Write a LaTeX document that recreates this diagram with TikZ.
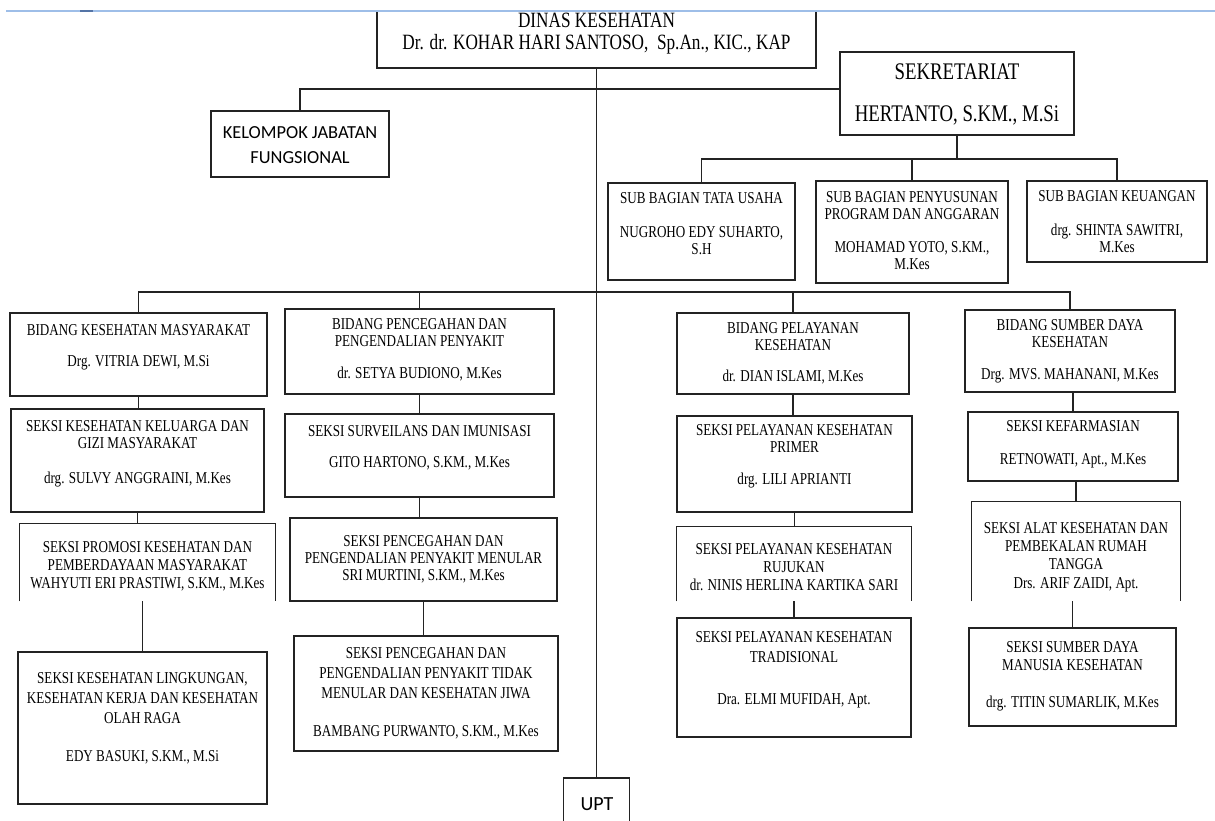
\documentclass[tikz,border=0pt]{standalone}
\usepackage{fontspec}
\setmainfont[FakeStretch=0.79]{Liberation Serif}
\newfontfamily\calibri{Carlito}
\definecolor{rulerblue}{RGB}{158,190,232}
\definecolor{rulerdark}{RGB}{84,116,166}
\definecolor{lineblack}{RGB}{35,35,35}

\begin{document}
\begin{tikzpicture}[x=0.5pt, y=-0.5pt,
        box/.style={draw=lineblack, line width=0.7pt, rectangle, inner sep=0pt},
        openbox/.style={rectangle, inner sep=0pt},
        txt/.style={align=center, inner sep=0pt, font=\fontsize{8.3}{8.5}\selectfont},
        link/.style={draw=lineblack, line width=0.7pt}
    ]
    \useasboundingbox (0,0) rectangle (1215,820);

    % Kepala dinas dan sekretariat
    \node[box, minimum width=219.5pt, minimum height=28.5pt] (dinas) at (596.5,39.5) {};
    \node[txt, font=\fontsize{10.9}{11}\selectfont] (dinast) at (596.5,34) {DINAS KESEHATAN\\Dr. dr. KOHAR HARI SANTOSO,\ \ Sp.An., KIC., KAP};
    \node[box, minimum width=117pt, minimum height=41.5pt] (sek) at (957,93.5) {};
    \node[txt, font=\fontsize{11.9}{12}\selectfont] (sekt) at (957,94) {SEKRETARIAT\\[9pt]HERTANTO, S.KM., M.Si};
    \node[box, minimum width=89pt, minimum height=33pt] (kjf) at (300,144) {};
    \node[txt, font=\calibri\fontsize{9.2}{12.5}\selectfont] (kjft) at (300,145.5) {KELOMPOK JABATAN\\FUNGSIONAL};

    % Sub bagian
    \node[box, minimum width=93.5pt, minimum height=48.5pt] (tu) at (701.5,231.5) {};
    \node[txt] (tut) at (701.5,224) {SUB BAGIAN TATA USAHA\\[8.5pt]NUGROHO EDY SUHARTO,\\S.H};
    \node[box, minimum width=96pt, minimum height=51pt] (pp) at (912,232) {};
    \node[txt] (ppt) at (912,231) {SUB BAGIAN PENYUSUNAN\\PROGRAM DAN ANGGARAN\\[8pt]MOHAMAD YOTO, S.KM.,\\M.Kes};
    \node[box, minimum width=90pt, minimum height=40.5pt] (keu) at (1117,221.5) {};
    \node[txt] (keut) at (1117,222) {SUB BAGIAN KEUANGAN\\[8.5pt]drg. SHINTA SAWITRI,\\M.Kes};

    % Bidang
    \node[box, minimum width=128.5pt, minimum height=41.5pt] (b1) at (138.5,354.5) {};
    \node[txt] (b1t) at (138.5,347.5) {BIDANG KESEHATAN MASYARAKAT\\[7pt]Drg. VITRIA DEWI, M.Si};
    \node[box, minimum width=134.5pt, minimum height=42.5pt] (b2) at (419.5,351.5) {};
    \node[txt] (b2t) at (419.5,350) {BIDANG PENCEGAHAN DAN\\PENGENDALIAN PENYAKIT\\[7.5pt]dr. SETYA BUDIONO, M.Kes};
    \node[box, minimum width=116pt, minimum height=40.5pt] (b3) at (793,353.5) {};
    \node[txt] (b3t) at (793,353.5) {BIDANG PELAYANAN\\KESEHATAN\\[7pt]dr. DIAN ISLAMI, M.Kes};
    \node[box, minimum width=105pt, minimum height=41pt] (b4) at (1070,351) {};
    \node[txt] (b4t) at (1070,351.5) {BIDANG SUMBER DAYA\\KESEHATAN\\[7.5pt]Drg. MVS. MAHANANI, M.Kes};

    % Seksi bidang kesehatan masyarakat
    \node[box, minimum width=126.5pt, minimum height=51.5pt] (s11) at (137.5,460.5) {};
    \node[txt] (s11t) at (137.5,453.5) {SEKSI KESEHATAN KELUARGA DAN\\GIZI MASYARAKAT\\[9pt]drg. SULVY ANGGRAINI, M.Kes};
    \node[openbox, minimum width=127.5pt, minimum height=38.5pt] (s12) at (147.5,562.5) {};
    \node[txt] (s12t) at (147.5,566) {SEKSI PROMOSI KESEHATAN DAN\\[0.5pt]PEMBERDAYAAN MASYARAKAT\\[0.5pt]WAHYUTI ERI PRASTIWI, S.KM., M.Kes};
    \node[box, minimum width=124.5pt, minimum height=76pt] (s13) at (142.5,728) {};
    \node[txt] (s13t) at (142.5,718.5) {SEKSI KESEHATAN LINGKUNGAN,\\[1.5pt]KESEHATAN KERJA DAN KESEHATAN\\[1.5pt]OLAH RAGA\\[10.5pt]EDY BASUKI, S.KM., M.Si};

    % Seksi bidang P2P
    \node[box, minimum width=134.5pt, minimum height=41.5pt] (s21) at (419.5,455.5) {};
    \node[txt] (s21t) at (419.5,447.5) {SEKSI SURVEILANS DAN IMUNISASI\\[7pt]GITO HARTONO, S.KM., M.Kes};
    \node[box, minimum width=133.5pt, minimum height=41.5pt] (s22) at (423.5,559.5) {};
    \node[txt] (s22t) at (423.5,559.5) {SEKSI PENCEGAHAN DAN\\PENGENDALIAN PENYAKIT MENULAR\\SRI MURTINI, S.KM., M.Kes};
    \node[box, minimum width=132pt, minimum height=57.5pt] (s23) at (426,693.5) {};
    \node[txt] (s23t) at (426,693) {SEKSI PENCEGAHAN DAN\\[1.5pt]PENGENDALIAN PENYAKIT TIDAK\\[1.5pt]MENULAR DAN KESEHATAN JIWA\\[10.5pt]BAMBANG PURWANTO, S.KM., M.Kes};

    % Seksi bidang pelayanan kesehatan
    \node[box, minimum width=117.5pt, minimum height=48pt] (s31) at (794.5,464) {};
    \node[txt] (s31t) at (794.5,456.5) {SEKSI PELAYANAN KESEHATAN\\PRIMER\\[7.5pt]drg. LILI APRIANTI};
    \node[openbox, minimum width=117pt, minimum height=37pt] (s32) at (794,564) {};
    \node[txt] (s32t) at (794,567) {SEKSI PELAYANAN KESEHATAN\\[0.5pt]RUJUKAN\\[0.5pt]dr. NINIS HERLINA KARTIKA SARI};
    \node[box, minimum width=117pt, minimum height=59.5pt] (s33) at (794,677.5) {};
    \node[txt] (s33t) at (794,670) {SEKSI PELAYANAN KESEHATAN\\[1.5pt]TRADISIONAL\\[12.5pt]Dra. ELMI MUFIDAH, Apt.};

    % Seksi bidang sumber daya kesehatan
    \node[box, minimum width=105pt, minimum height=34.5pt] (s41) at (1073,446.5) {};
    \node[txt] (s41t) at (1073,444.5) {SEKSI KEFARMASIAN\\[8pt]RETNOWATI, Apt., M.Kes};
    \node[openbox, minimum width=104pt, minimum height=49.5pt] (s42) at (1076,551.5) {};
    \node[txt] (s42t) at (1076,557.5) {SEKSI ALAT KESEHATAN DAN\\[0.5pt]PEMBEKALAN RUMAH\\[0.5pt]TANGGA\\[1pt]Drs. ARIF ZAIDI, Apt.};
    \node[box, minimum width=103.5pt, minimum height=49pt] (s43) at (1072.5,677) {};
    \node[txt] (s43t) at (1072.5,676.5) {SEKSI SUMBER DAYA\\[0.5pt]MANUSIA KESEHATAN\\[10pt]drg. TITIN SUMARLIK, M.Kes};

    % UPT
    \node[box, minimum width=33pt, minimum height=28pt] (upt) at (596.5,806) {};
    \node[txt, font=\calibri\fontsize{10}{12}\selectfont] (uptt) at (597,804) {UPT};

    % Sisi kotak yang terpotong
    \draw[link] (s12.south west) |- (s12.north east) -- (s12.south east);
    \draw[link] (s32.south west) |- (s32.north east) -- (s32.south east);
    \draw[link] (s42.south west) |- (s42.north east) -- (s42.south east);

    % Garis hubung
    \coordinate (sekbus) at (957,159);
    \coordinate (bidbus) at (596.5,292);
    \draw[link] (dinas.south) -- (upt.north);
    \draw[link] (kjf.north) |- ([yshift=2.25pt]sek.west);
    \draw[link] (sek.south) -- (sekbus);
    \draw[link] (tu.north) |- (keu.north |- sekbus) -- (keu.north);
    \draw[link] (pp.north) -- (pp.north |- sekbus);
    \draw[link] (b1.north) |- (b4.north |- bidbus) -- (b4.north);
    \draw[link] (b2.north) -- (b2.north |- bidbus);
    \draw[link] (b3.north) -- (b3.north |- bidbus);

    \draw[link] (b1.south) -- (b1.south |- s11.north);
    \draw[link] (s11.south) -- (s11.south |- s12.north);
    \draw[link] (s12.south -| s13.north) -- (s13.north);
    \draw[link] (b2.south) -- (b2.south |- s21.north);
    \draw[link] (s21.south) -- (s21.south |- s22.north);
    \draw[link] (s22.south) -- (s22.south |- s23.north);
    \draw[link] (b3.south) -- (b3.south |- s31.north);
    \draw[link] (s31.south) -- (s31.south |- s32.north);
    \draw[link] (s32.south) -- (s32.south |- s33.north);
    \draw[link] (s41.north |- b4.south) -- (s41.north);
    \draw[link] (s41.south -| s42.north) -- (s42.north);
    \draw[link] (s43.north |- s42.south) -- (s43.north);

    % Garis biru di atas
    \draw[rulerblue, line width=1pt] (6,11) -- (1215,11);
    \draw[rulerdark, line width=1pt] (80,11) -- (93,11);

\end{tikzpicture}
\end{document}
